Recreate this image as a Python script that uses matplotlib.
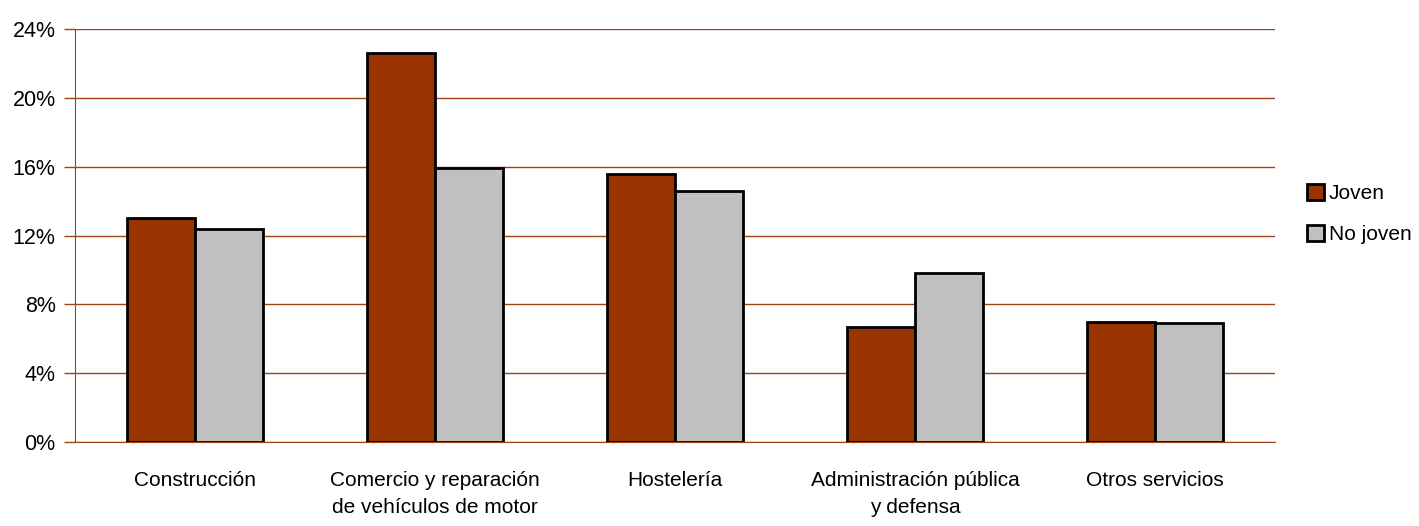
import matplotlib.pyplot as plt
import numpy as np

categories = ['Construcción', 'Comercio y reparación\nde vehículos de motor', 'Hostelería',
              'Administración pública\ny defensa', 'Otros servicios']
joven = [13.0, 22.6, 15.6, 6.7, 7.0]
no_joven = [12.4, 15.9, 14.6, 9.8, 6.9]
yticks = [0, 4, 8, 12, 16, 20, 24]

brown = '#993300'
grid_col = '#a0421a'

plt.rcParams['font.family'] = ['Liberation Sans', 'DejaVu Sans']

fig = plt.figure(figsize=(14.19, 5.26), dpi=100)
ax = fig.add_axes([75 / 1419, 1 - 442 / 526, 1200 / 1419, 413 / 526])

x = np.arange(len(categories))
w = 0.283
ax.bar(x - w / 2, joven, w, color=brown, edgecolor='black', linewidth=2, label='Joven', zorder=3)
ax.bar(x + w / 2, no_joven, w, color='#c0c0c0', edgecolor='black', linewidth=2, label='No joven', zorder=3)

ax.set_xlim(-0.5, len(categories) - 0.5)
ax.set_ylim(0, 24)
ax.set_yticks(yticks)
ax.set_yticklabels([f'{t}%' for t in yticks], fontsize=15.5)
ax.set_xticks(x)
ax.set_xticklabels(categories, fontsize=15, linespacing=1.5)
ax.tick_params(axis='x', length=0, pad=21)
ax.tick_params(axis='y', length=8, color=grid_col, width=1, pad=6)

ax.yaxis.grid(True, color=grid_col, linewidth=1)
ax.set_axisbelow(True)
for s in ['top', 'right']:
    ax.spines[s].set_visible(False)
ax.spines['left'].set_color(grid_col)
ax.spines['bottom'].set_color(grid_col)

leg = ax.legend(loc='center left', frameon=False, fontsize=15,
                handlelength=0.8, handleheight=0.8, handletextpad=0.25, labelspacing=1.05,
                borderpad=0, borderaxespad=0)
leg.set_bbox_to_anchor((1307 / 1419, 1 - 214 / 526), transform=fig.transFigure)

fig.savefig('out.png', dpi=100)
